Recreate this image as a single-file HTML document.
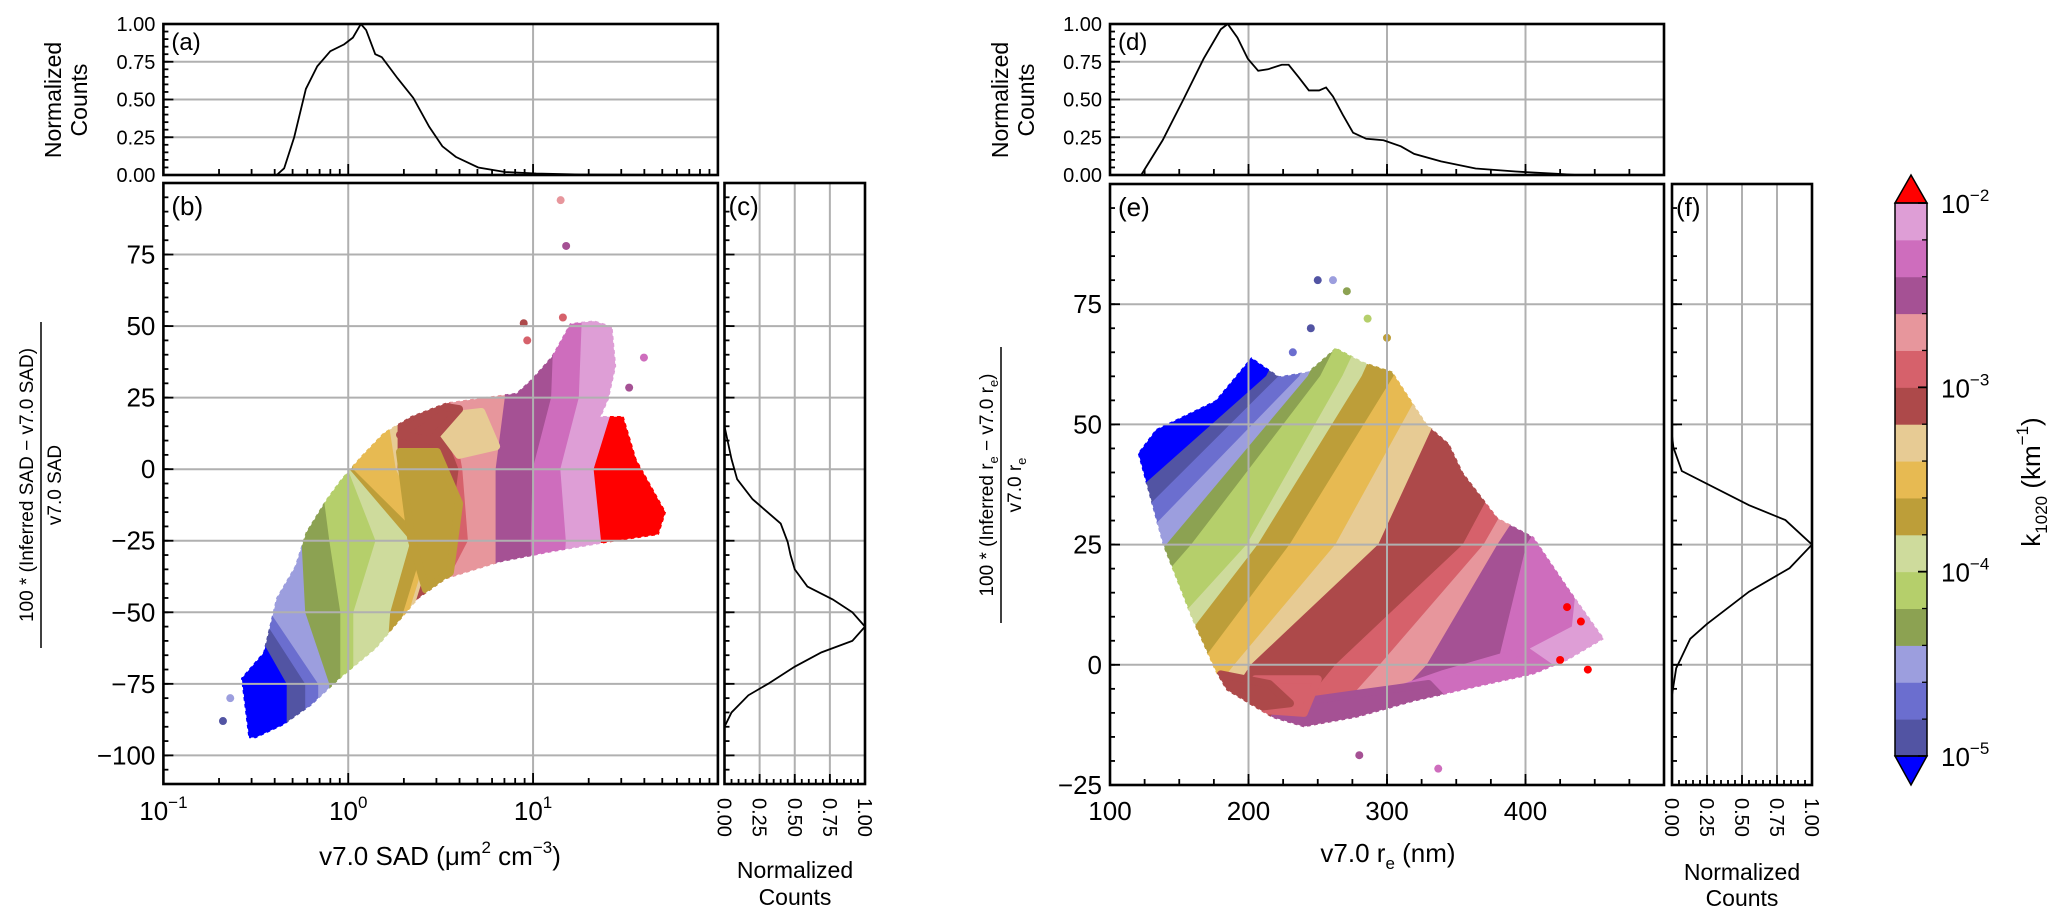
<!DOCTYPE html>
<html><head><meta charset="utf-8"><title>k1020 scatter</title>
<style>
html,body{margin:0;padding:0;background:#fff;}
svg{display:block;font-family:"Liberation Sans","DejaVu Sans",sans-serif;}
</style></head>
<body>
<svg id="fig" xmlns="http://www.w3.org/2000/svg" width="2067" height="923" viewBox="0 0 2067 923"></svg>
<script>
// ---------------- DATA ----------------
const bandColors = ["#0000ff","#5254a3","#6b6ecf","#9c9ede","#8ca252","#b5cf6b","#cedb9c","#bd9e39","#e7ba52","#e7cb94","#ad494a","#d6616b","#e7969c","#a55194","#ce6dbd","#de9ed6","#ff0000"];
const cbarDecades = [-5,-4,-3,-2];
const histTicks = [0,0.25,0.5,0.75,1.0];
const histTickLabels = ["0.00","0.25","0.50","0.75","1.00"];
const sadDecades = [-1,0,1,2];
const bTicks = [-100,-75,-50,-25,0,25,50,75];
const eTicks = [-25,0,25,50,75];
const reTicks = [100,200,300,400];

// (a) SAD histogram
const aSAD = [0.41,0.45,0.51,0.59,0.68,0.80,0.95,1.06,1.17,1.25,1.40,1.52,1.85,2.25,2.74,3.23,3.82,5.05,7.05,10.4,18.1,95];
const aCnt = [0,0.044,0.25,0.57,0.72,0.82,0.865,0.91,1.0,0.96,0.80,0.78,0.64,0.51,0.32,0.19,0.12,0.05,0.02,0.01,0.003,0];
// (c) SAD difference histogram
const cVal = [15,3.5,-3.5,-10.5,-19,-25.5,-30,-35,-41,-45.5,-50,-55,-60,-64,-69,-75,-79,-85,-90];
const cCnt = [0,0.05,0.09,0.2,0.4,0.45,0.47,0.5,0.59,0.77,0.91,1,0.91,0.69,0.5,0.31,0.17,0.05,0];
// (d) re histogram
const dRe = [122.5,138,153,167.6,180,185,192,199.5,207,214,224,229,236,243.6,251,256,261,268,275.5,285,297.5,310,319.6,339,364,393,422.5,437];
const dCnt = [0,0.23,0.50,0.77,0.965,1.0,0.91,0.77,0.69,0.70,0.73,0.73,0.65,0.56,0.56,0.58,0.52,0.40,0.28,0.24,0.23,0.19,0.14,0.09,0.043,0.023,0.008,0];
// (f) re difference histogram
const fVal = [-6.3,-0.7,1.1,5.4,8.5,15.2,20.1,25,30.1,33.2,40.3,45.2,47.7];
const fCnt = [0,0.03,0.06,0.13,0.25,0.55,0.84,1,0.81,0.55,0.07,0.01,0];

// (b) scatter envelope (log10 SAD, % diff)
const bEnvLogSAD = [-0.54,-0.58,-0.46,-0.39,-0.29,-0.23,-0.12,-0.04,0.07,0.19,0.34,0.53,0.72,0.91,0.99,1.1,1.2,1.33,1.43,1.45,1.41,1.37,1.49,1.56,1.72,1.68,1.41,1.1,0.82,0.53,0.38,0.15,-0.04,-0.2,-0.35,-0.5];
const bEnvVal = [-94,-73,-64,-45,-34,-22,-10.5,-3.5,4.7,12.8,18.6,23.3,25,26.7,31.4,39.5,51,52,50,36,24.4,18.6,18.6,3.5,-15,-23,-25.6,-29,-32.6,-38.4,-45.3,-62.8,-73,-82.6,-89.5,-94];
// (b) colour boundaries: log10 SAD at each level
const bLevels = [-120,-75,-50,-25,0,25,110];
const bBounds = [
 [-0.33,-0.33,-0.55,-0.70,-0.80,-0.90,-1.0],
 [-0.23,-0.23,-0.48,-0.60,-0.70,-0.80,-0.9],
 [-0.16,-0.16,-0.42,-0.50,-0.60,-0.70,-0.8],
 [-0.10,-0.10,-0.23,-0.25,-0.35,-0.45,-0.6],
 [-0.04,-0.04,-0.04,-0.10,-0.15,-0.25,-0.35],
 [0.03,0.03,0.03,0.15,0.00,-0.10,-0.2],
 [0.20,0.20,0.23,0.34,0.01,-0.05,-0.1],
 [0.25,0.25,0.30,0.42,0.03,0.00,-0.05],
 [0.28,0.28,0.33,0.45,0.26,0.20,0.15],
 [0.30,0.30,0.35,0.47,0.27,0.27,0.25],
 [0.35,0.35,0.40,0.55,0.60,0.45,0.50],
 [0.40,0.40,0.45,0.65,0.62,0.55,0.60],
 [0.80,0.80,0.80,0.80,0.80,0.85,0.90],
 [1.00,1.00,1.00,0.99,1.00,1.10,1.15],
 [1.16,1.16,1.16,1.18,1.15,1.25,1.30],
 [1.35,1.35,1.35,1.37,1.33,1.45,1.50]
];
// (b) colour patches overlaying the bands
const bPatchLog = [[0.28,0.48,0.60,0.55,0.42,0.34],[0.45,0.72,0.80,0.60],[0.28,0.50,0.60,0.45]];
const bPatchVal = [[6,6,-12,-36,-42,-24],[18,20,8,5],[12,22,21,10]];
const bPatchColor = [7,9,10];
const bOutSAD = [14.1,15.1,8.9,14.5,9.3,39.8,33.1,0.21,0.23];
const bOutVal = [94,78,51,53,45,39,28.5,-88,-80];
const bOutColor = [12,13,10,11,11,14,13,1,3];

// (e) scatter envelope (re nm, % diff)
const eEnvRe = [120,133,176,202,222,243,263,283,304,329,345,355,380,406,431,457,431,406,355,319,278,240,217,184,176,158.6,138,120];
const eEnvVal = [44,49,55,64,60,61,66,63,61,50,46,40,30.6,26.6,16,5.4,1,-2,-5.3,-7.7,-11,-13,-11,-5.3,-1.4,9.8,25,44];
// (e) colour boundaries: re (nm) at each level
const eLevels = [-40,0,25,60,110];
const eBounds = [
 [-178,-22,76,213,300],
 [-126,13,100,222,310],
 [-101,35,119,237,320],
 [-68,61,141,243,330],
 [-40,83,159,252,340],
 [0,120,199,268,350],
 [20,140,207,282,360],
 [50,165,230,305,370],
 [80,190,263,330,380],
 [110,202,294,350,400],
 [150,263,355,420,440],
 [170,295,370,440,460],
 [200,329,380,460,480],
 [250,380,401,480,500],
 [300,431,440,500,520],
 [450,470,500,520,540]
];
// (e) bottom colour patches
const ePatchRe = [[330,380,430,457,440,400],[280,330,380,420,400,340,300],[215,260,300,340,330,280,230],[190,240,250,205],[180,215,230,200,180]];
const ePatchVal = [[-8,-5,-1,5,8,2],[-10,-9,-5,-1,3,-2,-6],[-12,-14,-11,-7,-4,-6,-8],[-9,-10,-3,-3],[-2,-4,-8,-9,-6]];
const ePatchColor = [15,14,13,11,10];
const eOutRe = [250,261,271,280,337,232,245,286,300,430,440,425,445];
const eOutVal = [80,80,77.7,-18.8,-21.6,65,70,72,68,12,9,1,-1];
const eOutColor = [1,3,4,13,14,2,1,5,7,16,16,16,16];

// ---------------- AXES ----------------
const NS="http://www.w3.org/2000/svg";
const svg=document.getElementById('fig');
function el(tag,attrs,parent,text){const e=document.createElementNS(NS,tag);for(const k in attrs)e.setAttribute(k,attrs[k]);if(text!==undefined)e.textContent=text;(parent||svg).appendChild(e);return e;}

const A={L:163.4,R:717.9,T:24,B:175};
const Bx={L:163.4,R:717.9,T:183,B:784};
const C={L:724.5,R:865,T:183,B:784};
const D={L:1110,R:1664,T:24,B:175};
const E={L:1110,R:1664,T:184,B:785};
const F={L:1672,R:1812,T:184,B:785};
const CB={L:1895,R:1927,T:203,B:756,tipT:175,tipB:785};

const xLog=v=>Bx.L+(Math.log10(v)+1)*(Bx.R-Bx.L)/3;
const xLogL=l=>Bx.L+(l+1)*(Bx.R-Bx.L)/3;
const yB=v=>Bx.T+(100-v)*(Bx.B-Bx.T)/210;
const yA=v=>A.B-v*(A.B-A.T);
const xC=v=>C.L+v*(C.R-C.L);
const xRe=v=>E.L+(v-100)*(E.R-E.L)/400;
const yE=v=>E.T+(100-v)*(E.B-E.T)/125;
const yD=v=>D.B-v*(D.B-D.T);
const xF=v=>F.L+v*(F.R-F.L);
const yCB=l=>CB.T+(-2-l)*(CB.B-CB.T)/3;

const GRID="#b0b0b0";
const defs=el('defs',{});
function clipIn(id,r){const cp=el('clipPath',{id:id},defs);el('rect',{x:r.L,y:r.T,width:r.R-r.L,height:r.B-r.T},cp);}
clipIn('clipB',Bx);clipIn('clipE',E);clipIn('clipC',C);clipIn('clipF',F);clipIn('clipA',A);clipIn('clipD',D);

function gridV(g,r,xs,name){xs.forEach(x=>{const l=el('line',{x1:x,x2:x,y1:r.T,y2:r.B,stroke:GRID,'stroke-width':2},g);});}
function gridH(g,r,ys,name){ys.forEach(y=>{const l=el('line',{x1:r.L,x2:r.R,y1:y,y2:y,stroke:GRID,'stroke-width':2},g);});}
function frame(r,name){const f=el('rect',{x:r.L,y:r.T,width:r.R-r.L,height:r.B-r.T,fill:'none',stroke:'#000','stroke-width':2.6});}
function tickL(r,ys,len){ys.forEach(y=>el('line',{x1:r.L,x2:r.L+len,y1:y,y2:y,stroke:'#000','stroke-width':1.8}));}
function tickB(r,xs,len){xs.forEach(x=>el('line',{x1:x,x2:x,y1:r.B,y2:r.B-len,stroke:'#000','stroke-width':1.8}));}
function text(x,y,s,size,anchor,name,extra){const t=el('text',Object.assign({x:x,y:y,'font-size':size,'text-anchor':anchor||'middle',fill:'#000'},extra||{}),svg,s);return t;}
function lineFrom(xs,ys,name,g){const d=xs.map((x,i)=>(i?'L':'M')+x.toFixed(2)+' '+ys[i].toFixed(2)).join(' ');const p=el('path',{d:d,fill:'none',stroke:'#000','stroke-width':1.8},g);return p;}

const logMinors=[];sadDecades.slice(0,3).forEach(d=>{for(let m=2;m<=9;m++)logMinors.push(m*Math.pow(10,d));});
function range(a,b,s){const o=[];for(let v=a;v<=b+1e-9;v+=s)o.push(+v.toFixed(6));return o;}

// ---------- Panel (b) scatter ----------
const gB=el('g',{'clip-path':'url(#clipB)'});
const envB=el('clipPath',{id:'envB'},defs);
el('polygon',{points:bEnvLogSAD.map((l,i)=>xLogL(l).toFixed(1)+','+yB(bEnvVal[i]).toFixed(1)).join(' ')},envB);
const gBands=el('g',{'clip-path':'url(#envB)'},gB);
for(let i=0;i<bandColors.length;i++){
  const left=i===0?bLevels.map(()=>-2):bBounds[i-1];
  const right=i===bandColors.length-1?bLevels.map(()=>3):bBounds[i];
  const pts=[];
  bLevels.forEach((lv,k)=>pts.push(xLogL(left[k]).toFixed(1)+','+yB(lv).toFixed(1)));
  for(let k=bLevels.length-1;k>=0;k--)pts.push(xLogL(right[k]).toFixed(1)+','+yB(bLevels[k]).toFixed(1));
  const p=el('polygon',{points:pts.join(' '),fill:bandColors[i],stroke:bandColors[i],'stroke-width':1},gBands);
  
  
}
bPatchLog.forEach((ls,i)=>{
  const p=el('polygon',{points:ls.map((l,k)=>xLogL(l).toFixed(1)+','+yB(bPatchVal[i][k]).toFixed(1)).join(' '),fill:bandColors[bPatchColor[i]],stroke:bandColors[bPatchColor[i]],'stroke-width':8,'stroke-linejoin':'round'},gBands);
  
  
});
el('polygon',{points:bEnvLogSAD.map((l,i)=>xLogL(l).toFixed(1)+','+yB(bEnvVal[i]).toFixed(1)).join(' '),fill:'none',stroke:'#fff','stroke-width':1.5,'stroke-dasharray':'2 5','stroke-linecap':'round'},gB);
bOutSAD.forEach((v,i)=>{const c=el('circle',{cx:xLog(v),cy:yB(bOutVal[i]),r:4,fill:bandColors[bOutColor[i]]},gB);});
const gBg=el('g',{});
gridV(gBg,Bx,[1,10].map(xLog),'sad-gridline-x');
gridH(gBg,Bx,bTicks.map(yB),'sad-gridline-y');
tickL(Bx,bTicks.map(yB),10);tickL(Bx,range(-110,100,5).map(yB),5);
tickB(Bx,[0.1,1,10,100].map(xLog),11);tickB(Bx,logMinors.map(xLog),6);
frame(Bx,'sad-scatter-axes');
bTicks.forEach(v=>text(Bx.L-8,yB(v)+9,(v<0?'\u2212':'')+Math.abs(v),26,'end','sad-y-tick-label'));
sadDecades.forEach(d=>{if(d>1)return;const t=text(xLogL(d),820,'10',26,'middle','sad-x-tick-label');el('tspan',{'font-size':17,dy:-12},t,d<0?'\u22121':String(d));});
{const t=text(440,865,'v7.0 SAD (\u03bcm',26,'middle','sad-x-axis-title');el('tspan',{'font-size':17,dy:-12},t,'2');el('tspan',{dy:12},t,' cm');el('tspan',{'font-size':17,dy:-12},t,'\u22123');el('tspan',{dy:12},t,')');}
text(Bx.L+8,Bx.T+32,'(b)',26,'start','panel-b-label');
{const g=el('g',{transform:'translate(41,485) rotate(-90)'});
 el('text',{x:0,y:-8,'font-size':19,'text-anchor':'middle'},g,'100 * (Inferred SAD  \u2212  v7.0 SAD)');
 el('line',{x1:-163,x2:163,y1:0,y2:0,stroke:'#000','stroke-width':1.5},g);
 el('text',{x:0,y:20,'font-size':19,'text-anchor':'middle'},g,'v7.0 SAD');}

// ---------- Panel (a) ----------
const gA=el('g',{});
gridV(gA,A,[1,10].map(xLog),'sad-hist-gridline-x');
gridH(gA,A,histTicks.slice(1,4).map(yA),'sad-hist-gridline-y');
lineFrom(aSAD.map(xLog),aCnt.map(yA),'sad-hist-line',el('g',{'clip-path':'url(#clipA)'}));
tickL(A,histTicks.map(yA),10);tickL(A,range(0,1,0.05).map(yA),5);
tickB(A,[0.1,1,10,100].map(xLog),11);tickB(A,logMinors.map(xLog),6);
frame(A,'sad-hist-axes');
histTicks.forEach((v,i)=>text(A.L-8,yA(v)+7,histTickLabels[i],20,'end','sad-hist-y-tick-label'));
text(A.L+8,A.T+26,'(a)',24,'start','panel-a-label');
{const t=el('text',{transform:'translate(65,100) rotate(-90)','font-size':23,'text-anchor':'middle'});
 el('tspan',{x:0,dy:-4},t,'Normalized');el('tspan',{x:0,dy:26},t,'Counts');}

// ---------- Panel (c) ----------
const gC=el('g',{});
gridV(gC,C,histTicks.slice(1,4).map(xC),'sad-diff-hist-gridline-x');
gridH(gC,C,bTicks.map(yB),'sad-diff-hist-gridline-y');
lineFrom(cCnt.map(xC),cVal.map(yB),'sad-diff-hist-line',el('g',{'clip-path':'url(#clipC)'}));
tickL(C,bTicks.map(yB),10);tickL(C,range(-110,100,5).map(yB),5);
tickB(C,histTicks.map(xC),10);tickB(C,range(0,1,0.05).map(xC),5);
frame(C,'sad-diff-hist-axes');
histTicks.forEach((v,i)=>{const t=el('text',{transform:`translate(${xC(v)-7},798) rotate(90)`,'font-size':20,'text-anchor':'start'},svg,histTickLabels[i]);});
text(C.L+4,C.T+32,'(c)',26,'start','panel-c-label');
text(795,878,'Normalized',23,'middle','sad-diff-hist-x-axis-title');text(795,905,'Counts',23,'middle','sad-diff-hist-x-axis-title-line2');

// ---------- Panel (e) scatter ----------
const gE=el('g',{'clip-path':'url(#clipE)'});
const envE=el('clipPath',{id:'envE'},defs);
el('polygon',{points:eEnvRe.map((r,i)=>xRe(r).toFixed(1)+','+yE(eEnvVal[i]).toFixed(1)).join(' ')},envE);
const gEB=el('g',{'clip-path':'url(#envE)'},gE);
for(let i=0;i<bandColors.length;i++){
  const left=i===0?eLevels.map(()=>-600):eBounds[i-1];
  const right=i===bandColors.length-1?eLevels.map(()=>1200):eBounds[i];
  const pts=[];
  eLevels.forEach((lv,k)=>pts.push(xRe(left[k]).toFixed(1)+','+yE(lv).toFixed(1)));
  for(let k=eLevels.length-1;k>=0;k--)pts.push(xRe(right[k]).toFixed(1)+','+yE(eLevels[k]).toFixed(1));
  const p=el('polygon',{points:pts.join(' '),fill:bandColors[i],stroke:bandColors[i],'stroke-width':1},gEB);
  
  
}
ePatchRe.forEach((rs,i)=>{
  const p=el('polygon',{points:rs.map((r,k)=>xRe(r).toFixed(1)+','+yE(ePatchVal[i][k]).toFixed(1)).join(' '),fill:bandColors[ePatchColor[i]],stroke:bandColors[ePatchColor[i]],'stroke-width':8,'stroke-linejoin':'round'},gEB);
  
  
});
el('polygon',{points:eEnvRe.map((r,i)=>xRe(r).toFixed(1)+','+yE(eEnvVal[i]).toFixed(1)).join(' '),fill:'none',stroke:'#fff','stroke-width':1.5,'stroke-dasharray':'2 5','stroke-linecap':'round'},gE);
eOutRe.forEach((v,i)=>{const c=el('circle',{cx:xRe(v),cy:yE(eOutVal[i]),r:4,fill:bandColors[eOutColor[i]]},gE);});
const gEg=el('g',{});
gridV(gEg,E,reTicks.slice(1).map(xRe),'re-gridline-x');
gridH(gEg,E,eTicks.map(yE),'re-gridline-y');
tickL(E,eTicks.map(yE),10);tickL(E,range(-25,100,5).map(yE),5);
tickB(E,reTicks.map(xRe),11);tickB(E,range(100,500,25).map(xRe),6);
frame(E,'re-scatter-axes');
eTicks.forEach(v=>text(E.L-8,yE(v)+9,(v<0?'\u2212':'')+Math.abs(v),26,'end','re-y-tick-label'));
reTicks.forEach(v=>text(xRe(v),820,String(v),26,'middle','re-x-tick-label'));
{const t=text(1388,862,'v7.0 r',26,'middle','re-x-axis-title');el('tspan',{'font-size':17,dy:7},t,'e');el('tspan',{dy:-7},t,' (nm)');}
text(E.L+8,E.T+32,'(e)',26,'start','panel-e-label');
{const g=el('g',{transform:'translate(1001,485) rotate(-90)'});
 const t1=el('text',{x:0,y:-8,'font-size':19,'text-anchor':'middle'},g,'100 * (Inferred r');el('tspan',{'font-size':13,dy:5},t1,'e');el('tspan',{dy:-5},t1,'  \u2212  v7.0 r');el('tspan',{'font-size':13,dy:5},t1,'e');el('tspan',{dy:-5},t1,')');
 el('line',{x1:-138,x2:138,y1:0,y2:0,stroke:'#000','stroke-width':1.5},g);
 const t2=el('text',{x:0,y:20,'font-size':19,'text-anchor':'middle'},g,'v7.0 r');el('tspan',{'font-size':13,dy:5},t2,'e');}

// ---------- Panel (d) ----------
const gD=el('g',{});
gridV(gD,D,reTicks.slice(1).map(xRe),'re-hist-gridline-x');
gridH(gD,D,histTicks.slice(1,4).map(yD),'re-hist-gridline-y');
lineFrom(dRe.map(xRe),dCnt.map(yD),'re-hist-line',el('g',{'clip-path':'url(#clipD)'}));
tickL(D,histTicks.map(yD),10);tickL(D,range(0,1,0.05).map(yD),5);
tickB(D,reTicks.map(xRe),11);tickB(D,range(100,500,25).map(xRe),6);
frame(D,'re-hist-axes');
histTicks.forEach((v,i)=>text(D.L-8,yD(v)+7,histTickLabels[i],20,'end','re-hist-y-tick-label'));
text(D.L+8,D.T+26,'(d)',24,'start','panel-d-label');
{const t=el('text',{transform:'translate(1012,100) rotate(-90)','font-size':23,'text-anchor':'middle'});
 el('tspan',{x:0,dy:-4},t,'Normalized');el('tspan',{x:0,dy:26},t,'Counts');}

// ---------- Panel (f) ----------
const gF=el('g',{});
gridV(gF,F,histTicks.slice(1,4).map(xF),'re-diff-hist-gridline-x');
gridH(gF,F,eTicks.map(yE),'re-diff-hist-gridline-y');
lineFrom(fCnt.map(xF),fVal.map(yE),'re-diff-hist-line',el('g',{'clip-path':'url(#clipF)'}));
tickL(F,eTicks.map(yE),10);tickL(F,range(-25,100,5).map(yE),5);
tickB(F,histTicks.map(xF),10);tickB(F,range(0,1,0.05).map(xF),5);
frame(F,'re-diff-hist-axes');
histTicks.forEach((v,i)=>{const t=el('text',{transform:`translate(${xF(v)-7},798) rotate(90)`,'font-size':20,'text-anchor':'start'},svg,histTickLabels[i]);});
text(F.L+4,F.T+32,'(f)',26,'start','panel-f-label');
text(1742,880,'Normalized',23,'middle','re-diff-hist-x-axis-title');text(1742,906,'Counts',23,'middle','re-diff-hist-x-axis-title-line2');

// ---------- Colorbar ----------
const gCB=el('g',{});
const nB=bandColors.length-2;
for(let i=0;i<nB;i++){
  const l0=-5+i*3/nB,l1=-5+(i+1)*3/nB;
  const r=el('rect',{x:CB.L,y:yCB(l1),width:CB.R-CB.L,height:yCB(l0)-yCB(l1)+0.5,fill:bandColors[i+1]},gCB);
  
  
}
{const t=el('polygon',{points:`${CB.L},${CB.T} ${(CB.L+CB.R)/2},${CB.tipT} ${CB.R},${CB.T}`,fill:bandColors[16],stroke:'#000','stroke-width':1.5},gCB);
 const b=el('polygon',{points:`${CB.L},${CB.B} ${(CB.L+CB.R)/2},${CB.tipB} ${CB.R},${CB.B}`,fill:bandColors[0],stroke:'#000','stroke-width':1.5},gCB);}
el('rect',{x:CB.L,y:CB.T,width:CB.R-CB.L,height:CB.B-CB.T,fill:'none',stroke:'#000','stroke-width':1.5},gCB);
for(let i=0;i<=nB;i++){const y=yCB(-5+i*3/nB);el('line',{x1:CB.R,x2:CB.R-5,y1:y,y2:y,stroke:'#000','stroke-width':1.3},gCB);}
cbarDecades.forEach(d=>{const y=yCB(d);el('line',{x1:CB.R,x2:CB.R-9,y1:y,y2:y,stroke:'#000','stroke-width':1.8},gCB);
  const t=text(CB.R+14,y+10,'10',26,'start','colorbar-tick-label');el('tspan',{'font-size':17,dy:-12},t,'\u2212'+Math.abs(d));});
{const t=el('text',{transform:'translate(2040,482) rotate(-90)','font-size':26,'text-anchor':'middle'});
 t.appendChild(document.createTextNode('k'));el('tspan',{'font-size':17,dy:7},t,'1020');el('tspan',{dy:-7},t,' (km');el('tspan',{'font-size':17,dy:-12},t,'\u22121');el('tspan',{dy:12},t,')');}
</script>
</body></html>
